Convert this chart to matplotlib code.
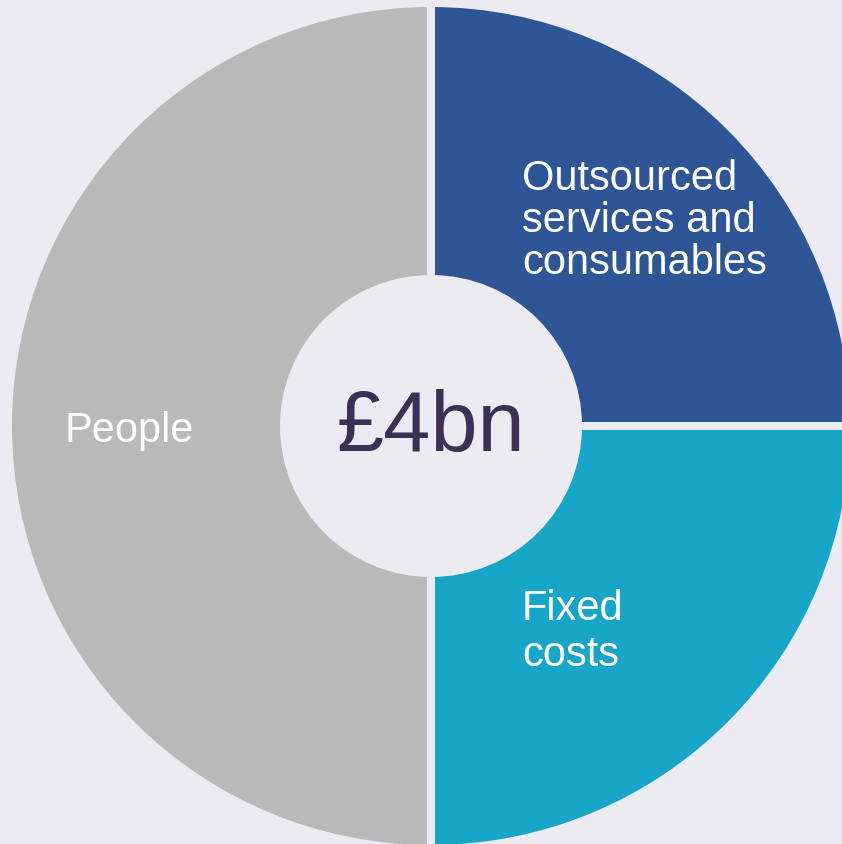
import matplotlib.pyplot as plt
import matplotlib

matplotlib.rcParams['font.family'] = ['Liberation Sans', 'DejaVu Sans']

# spend breakdown (share of total)
labels = ["Outsourced\nservices and\nconsumables", "Fixed\ncosts", "People"]
shares = [25, 25, 50]
colors = ["#2E5595", "#17A6C8", "#B9B9B9"]
total_label = "£4bn"

bg = "#EBEBF1"
W, H = 842, 845

fig = plt.figure(figsize=(W / 100, H / 100), dpi=100, facecolor=bg)
ax = fig.add_axes([0, 0, 1, 1])
ax.set_facecolor(bg)

cx, cy = 431, H - 427
r_out, r_in = 419, 151
gap = 8  # px between wedges

ax.pie(shares, colors=colors, startangle=90, counterclock=False,
       center=(cx, cy), radius=r_out + gap / 2,
       wedgeprops=dict(width=r_out - r_in + gap, edgecolor=bg,
                       linewidth=gap * 0.72))
ax.set_xlim(0, W)
ax.set_ylim(0, H)
ax.set_aspect('auto')
ax.axis('off')

ax.text(cx, cy - 2, total_label, ha='center', va='center',
        fontsize=61, color="#3B3156")

ax.text(522, H - 221, labels[0], ha='left', va='center', fontsize=30,
        color='white', linespacing=1.08)
ax.text(522, H - 632, labels[1], ha='left', va='center', fontsize=30,
        color='white', linespacing=1.2)
ax.text(65, H - 431, labels[2], ha='left', va='center', fontsize=30,
        color='white')

fig.savefig("out.png", dpi=100, facecolor=bg)
